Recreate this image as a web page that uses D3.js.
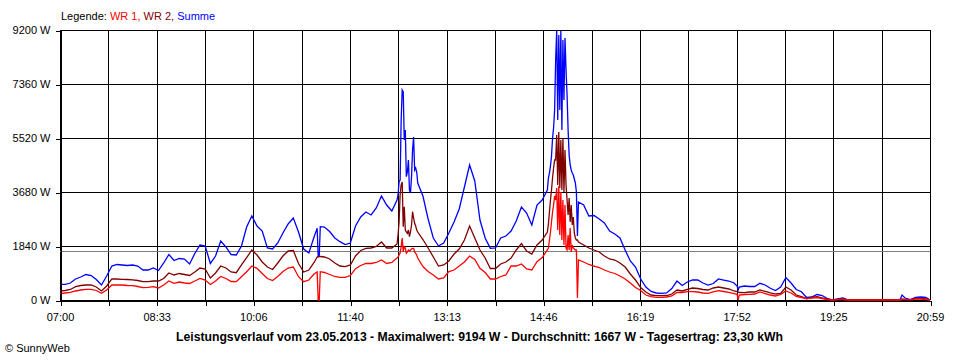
<!DOCTYPE html>
<html><head><meta charset="utf-8">
<script src="https://cdn.jsdelivr.net/npm/d3@7"></script>
<style>
body{margin:0;background:#fff}
svg{display:block}
text{font-family:"Liberation Sans",Arial,sans-serif}
</style>
</head><body><svg id="c" width="960" height="360"></svg>
<script>
const times=[
"07:00","07:05","07:10","07:15","07:20","07:25","07:30","07:35","07:40","07:45",
"07:50","07:55","08:00","08:05","08:10","08:15","08:20","08:25","08:30","08:35",
"08:40","08:45","08:50","08:55","09:00","09:05","09:10","09:15","09:20","09:25",
"09:30","09:35","09:40","09:45","09:50","09:55","10:00","10:05","10:10","10:15",
"10:20","10:25","10:30","10:35","10:40","10:45","10:50","10:55","11:00","11:05",
"11:08","11:09","11:10","11:11","11:15","11:20","11:25","11:30","11:35","11:40",
"11:45","11:50","11:55","12:00","12:05","12:10","12:15","12:20","12:25","12:26",
"12:27","12:28","12:29","12:30","12:31","12:32","12:33","12:34","12:35","12:36",
"12:37","12:38","12:39","12:40","12:41","12:42","12:43","12:44","12:45","12:50",
"12:55","13:00","13:05","13:10","13:15","13:20","13:25","13:30","13:35","13:40",
"13:45","13:50","13:55","14:00","14:05","14:10","14:15","14:20","14:25","14:30",
"14:35","14:40","14:45","14:50","14:51","14:52","14:53","14:54","14:55","14:56",
"14:57","14:58","14:59","15:00","15:01","15:02","15:03","15:04","15:05","15:06",
"15:07","15:08","15:09","15:10","15:11","15:12","15:13","15:14","15:15","15:16",
"15:17","15:18","15:19","15:20","15:25","15:30","15:35","15:40","15:45","15:50",
"15:55","16:00","16:05","16:10","16:15","16:20","16:25","16:30","16:35","16:40",
"16:45","16:50","16:55","17:00","17:05","17:10","17:15","17:20","17:25","17:30",
"17:35","17:40","17:45","17:50","17:53","17:54","17:55","18:00","18:05","18:10",
"18:15","18:20","18:25","18:30","18:35","18:40","18:45","18:50","18:55","19:00",
"19:05","19:10","19:15","19:20","19:25","19:30","19:35","19:40","20:30","20:32",
"20:35","20:40","20:45","20:50","20:55","20:59"
];
const summe=[
535,535,579,716,784,869,835,699,511,818,
1158,1210,1193,1176,1193,1158,1022,1022,1090,1005,
1261,1550,1346,1414,1397,1227,1584,1874,1840,1244,
1499,2010,1806,1550,1533,1840,2487,2862,2521,2351,
1772,1738,1942,2283,2590,2794,2317,1738,1601,2147,
2443,1475,1482,2498,2487,2334,2113,1987,1891,1942,
2521,2828,2998,2896,3135,3544,3237,3033,3407,3578,
4021,4089,6133,7155,7087,5452,5793,4201,4361,4770,
3748,3646,4201,5111,5554,4430,4498,4361,3987,3544,
2760,2113,1840,1942,2283,2658,3101,3850,4600,4055,
2726,2113,1762,1772,2113,2181,2351,2692,3169,2964,
2556,3237,3407,3748,4157,4327,4566,4906,5520,5861,
6474,8178,9194,6133,9030,6474,9166,5793,8859,6815,
8927,7837,6985,5793,4941,4600,4430,4327,4259,4123,
3987,3680,2181,3339,3237,2862,2879,2760,2624,2351,
2249,2113,1704,1329,1124,716,443,290,239,228,
239,392,647,494,613,681,681,579,511,562,
716,681,647,579,477,341,443,477,460,460,
569,511,399,324,443,767,579,358,283,85,
102,187,153,51,0,34,68,0,0,170,
68,17,92,102,85,0
];
const wr2=[
307,324,358,453,494,511,511,443,307,477,
716,716,705,699,688,664,624,624,647,647,
733,920,852,903,869,835,954,1090,1056,750,
920,1158,1090,954,930,1193,1441,1704,1533,1295,
1124,1039,1261,1499,1670,1687,1244,954,1022,1278,
1465,1475,1482,1482,1465,1397,1261,1158,1135,1193,
1499,1687,1762,1772,1823,1976,1772,1772,1908,2215,
2658,3578,3918,4021,2498,3179,2385,2317,2273,2385,
2157,2317,2556,3009,2794,2613,2521,2385,2317,2061,
1772,1465,1158,1193,1329,1567,1738,2044,2521,2113,
1704,1431,1073,1073,1227,1295,1431,1704,1925,1670,
1567,1874,2044,2317,2590,2998,3407,3748,4157,4498,
4770,4770,5622,3918,5724,3816,5452,3748,5520,3680,
5111,3918,3407,2896,3475,2658,3237,2556,2828,2283,
2113,2044,2044,1976,1874,1772,1704,1636,1499,1397,
1363,1261,1124,886,681,426,273,170,147,147,
153,204,341,307,365,409,392,358,341,409,
443,409,375,307,283,273,256,249,273,273,
341,290,239,204,221,443,341,170,112,44,
85,112,68,34,0,17,34,0,0,34,
17,10,51,51,34,0
];
const wr1=[
215,239,262,307,341,365,365,324,228,341,
511,511,511,494,487,460,419,433,453,409,
511,647,569,613,579,562,647,733,681,528,
647,801,733,630,624,794,964,1158,1080,903,
733,664,801,971,1090,1124,794,624,681,886,
954,0,0,964,937,869,801,773,773,835,
1067,1176,1244,1244,1278,1363,1244,1278,1431,1465,
1533,1601,1806,2113,1646,1816,1772,1591,1636,1704,
1670,1704,1738,1762,1762,1636,1591,1533,1431,1141,
971,852,716,750,971,1022,1158,1295,1499,1380,
1080,937,716,716,801,852,1158,1158,1227,1056,
1022,1305,1448,1704,1772,2044,2317,2658,2998,3237,
3544,3407,3816,2385,3884,2215,3680,2044,3407,1874,
3237,1772,1704,2215,1704,2453,1636,1874,1772,1738,
1704,1704,68,1363,1295,1210,1158,1107,1022,954,
903,818,716,579,426,324,170,112,92,92,
102,136,256,256,283,283,273,239,228,273,
317,290,262,221,194,0,170,187,194,204,
273,221,170,136,187,307,239,119,85,44,
68,78,51,17,0,10,17,0,0,17,
10,7,34,34,17,0
];
const yTickValues=[0,1840,3680,5520,7360,9200];
const xTickLabels=["07:00","08:33","10:06","11:40","13:13","14:46","16:19","17:52","19:25","20:59"];
const average=1667;
const legendTitle="Legende: ";
const seriesNames=["WR 1","WR 2","Summe"];
const titleText="Leistungsverlauf vom 23.05.2013 - Maximalwert: 9194 W - Durchschnitt: 1667 W - Tagesertrag: 23,30 kWh";
const copyrightText="\u00A9 SunnyWeb";

const colors={wr1:"#ff0000",wr2:"#800000",summe:"#0000ff"};
const toMin=s=>{const [h,m]=s.split(":").map(Number);return h*60+m;};
const tStart=toMin(xTickLabels[0]), tEnd=toMin(xTickLabels[xTickLabels.length-1]);
const L=60,R=930,T=30,B=300;
const x=d3.scaleLinear().domain([tStart,tEnd]).range([L,R]);
const y=d3.scaleLinear().domain([0,9200]).range([B,T]);
const svg=d3.select("#c");

const nGrid=(xTickLabels.length-1)*2;
const gridTimes=d3.range(nGrid+1).map(i=>tStart+i*(tEnd-tStart)/nGrid);

const g=svg.append("g").attr("shape-rendering","crispEdges");
g.selectAll("line.h").data(yTickValues).join("line")
 .attr("x1",L).attr("x2",R).attr("y1",d=>Math.round(y(d))+0.5).attr("y2",d=>Math.round(y(d))+0.5)
 .attr("stroke","#000");
g.selectAll("line.v").data(gridTimes).join("line")
 .attr("x1",d=>Math.round(x(d))+0.5).attr("x2",d=>Math.round(x(d))+0.5).attr("y1",T).attr("y2",B)
 .attr("stroke","#000");
g.append("line").attr("x1",L).attr("x2",R)
 .attr("y1",Math.round(y(average))+0.5).attr("y2",Math.round(y(average))+0.5).attr("stroke","#808080");

const tm=times.map(toMin);
const line=d3.line().x((d,i)=>x(tm[i])).y(d=>y(d));
[[summe,colors.summe],[wr2,colors.wr2],[wr1,colors.wr1]].forEach(([arr,c])=>{
  svg.append("path").datum(arr).attr("d",line).attr("fill","none")
   .attr("stroke",c).attr("stroke-width",1.3).attr("stroke-linejoin","miter");
});

const ya=svg.append("g").attr("transform",`translate(${L+0.5},0)`)
 .call(d3.axisLeft(y).tickValues(yTickValues).tickSize(5).tickSizeOuter(0).tickFormat(d=>d+" W"));
ya.attr("shape-rendering","crispEdges");
ya.selectAll(".tick line").attr("transform","translate(0,0.5)");
ya.selectAll("text").attr("x",-10).attr("font-size",11).attr("font-family","Liberation Sans, Arial, sans-serif").attr("fill","#000");
ya.select(".domain").attr("stroke","#000");

const xa=svg.append("g").attr("transform",`translate(0,${B+0.5})`)
 .call(d3.axisBottom(x).tickValues(gridTimes).tickSize(5).tickSizeOuter(0)
   .tickFormat((d,i)=>i%2===0?xTickLabels[i/2]:""));
xa.attr("shape-rendering","crispEdges");
xa.selectAll(".tick line").attr("transform","translate(0.5,0)");
xa.selectAll("text").attr("y",13).attr("font-size",11).attr("font-family","Liberation Sans, Arial, sans-serif").attr("fill","#000");

const lg=svg.append("text").attr("x",61).attr("y",20).attr("font-size",11);
lg.append("tspan").text(legendTitle).attr("fill","#000");
const sc=[colors.wr1,colors.wr2,colors.summe];
seriesNames.forEach((n,i)=>{
  lg.append("tspan").text(n+(i<seriesNames.length-1?", ":"")).attr("fill",sc[i]);
});

svg.append("text").attr("x",479.5).attr("y",341).attr("text-anchor","middle")
 .attr("font-size",12).attr("font-weight","bold").attr("textLength",607).attr("lengthAdjust","spacingAndGlyphs")
 .text(titleText);
svg.append("text").attr("x",5).attr("y",352).attr("font-size",11).text(copyrightText);
</script></body></html>
